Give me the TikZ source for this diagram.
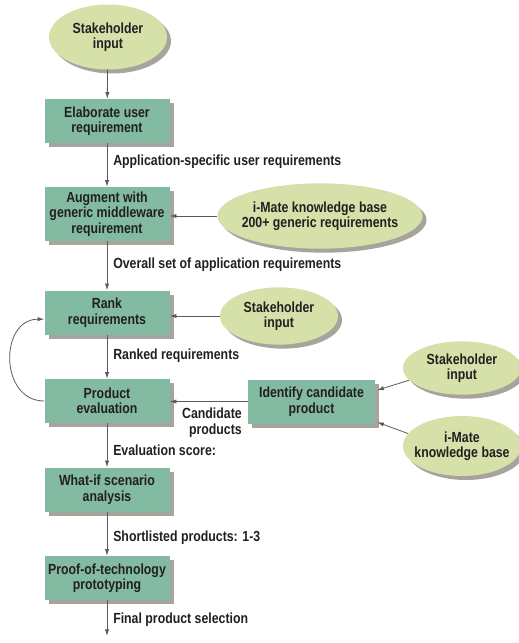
\documentclass[tikz,border=0pt]{standalone}
\usepackage{fontspec}
\setmainfont{Liberation Sans}[FakeStretch=0.84]
\usetikzlibrary{shapes.geometric,arrows.meta,shadows}
\definecolor{boxfill}{HTML}{82BBA1}
\definecolor{ovalfill}{HTML}{D6E0A9}
\definecolor{shadowgray}{HTML}{A9A39D}
\definecolor{inkdark}{HTML}{231F20}
\definecolor{linegray}{HTML}{5A5A5A}
\begin{document}
\begin{tikzpicture}[x=0.75pt,y=-0.75pt,
  every node/.style={font=\fontsize{11}{11.6}\selectfont\bfseries, text=inkdark},
  procbox/.style={rectangle, fill=boxfill, draw=none, align=center,
    minimum width=93.75pt, minimum height=33pt, inner sep=1pt,
    drop shadow={shadow xshift=3pt, shadow yshift=-3pt, fill=shadowgray, opacity=1}},
  source/.style={ellipse, fill=ovalfill, draw=none, align=center,
    inner xsep=-8pt, inner ysep=0pt,
    drop shadow={shadow xshift=3pt, shadow yshift=-3pt, fill=shadowgray, opacity=1}},
  flow/.style={draw=linegray, line width=0.6pt, -{Latex[length=5pt,width=3.2pt]}},
  flowlabel/.style={anchor=west, inner sep=0pt}]
\useasboundingbox (0,0) rectangle (518,643);

% main column of process steps
\node[source, minimum width=88.5pt, minimum height=48.75pt] (sh1) at (108,37) {Stakeholder\\input};
\node[procbox] (elab) at (107,121) {Elaborate user\\requirement};
\node[procbox, minimum height=40.5pt] (augm) at (107,214) {Augment with\\generic middleware\\requirement};
\node[procbox] (rank) at (107,312.5) {Rank\\requirements};
\node[procbox] (prod) at (107,401) {Product\\evaluation};
\node[procbox] (whatif) at (107,489.5) {What-if scenario\\analysis};
\node[procbox] (proof) at (107,578) {Proof-of-technology\\prototyping};
\coordinate (final) at (107,636);

% side inputs
\node[source, minimum width=153.75pt, minimum height=49pt] (kb1) at (320,216) {i-Mate knowledge base\\200+ generic requirements};
\node[source, minimum width=88.5pt, minimum height=43pt] (sh2) at (279,316) {Stakeholder\\input};
\node[procbox, minimum width=95.25pt] (ident) at (311.5,401.5) {Identify candidate\\product};
\node[source, minimum width=88.5pt, minimum height=40pt] (sh3) at (462,368) {Stakeholder\\input};
\node[source, minimum width=88.5pt, minimum height=45pt] (kb2) at (462,446) {i-Mate\\knowledge base};

% main flow
\draw[flow] (sh1) -- (elab);
\draw[flow] (elab) -- (augm);
\draw[flow] (augm) -- (rank);
\draw[flow] (rank) -- (prod);
\draw[flow] (prod) -- (whatif);
\draw[flow] (whatif) -- (proof);
\draw[flow] (proof) -- (final);

% side flows
\draw[flow] (kb1.west) -- (augm.east |- kb1.west);
\draw[flow] (sh2.west) -- (rank.east |- sh2.west);
\draw[flow] (ident.west) -- (prod.east |- ident.west);
\draw[flow] (sh3.193) -- ([xshift=1.5pt,yshift=8.5pt]ident.east);
\draw[flow] (kb2.167) -- ([xshift=1.5pt,yshift=-15.5pt]ident.east);
\draw[flow] (prod.west) .. controls +(-45,0) and +(-45,0) .. ([yshift=-5pt]rank.west);

% flow labels
\node[flowlabel] (l1) at (113,162) {Application-specific user requirements};
\node[flowlabel] (l2) at (113,265) {Overall set of application requirements};
\node[flowlabel] (l3) at (113,356) {Ranked requirements};
\node[flowlabel] (l4) at (113,450) {Evaluation score:};
\node[flowlabel] (l5) at (113,538) {Shortlisted products: 1-3};
\node[flowlabel] (l6) at (113,620) {Final product selection};
\node[anchor=north east, align=right, inner sep=0pt] (l7) at (242,408) {Candidate\\products};
\end{tikzpicture}
\end{document}
